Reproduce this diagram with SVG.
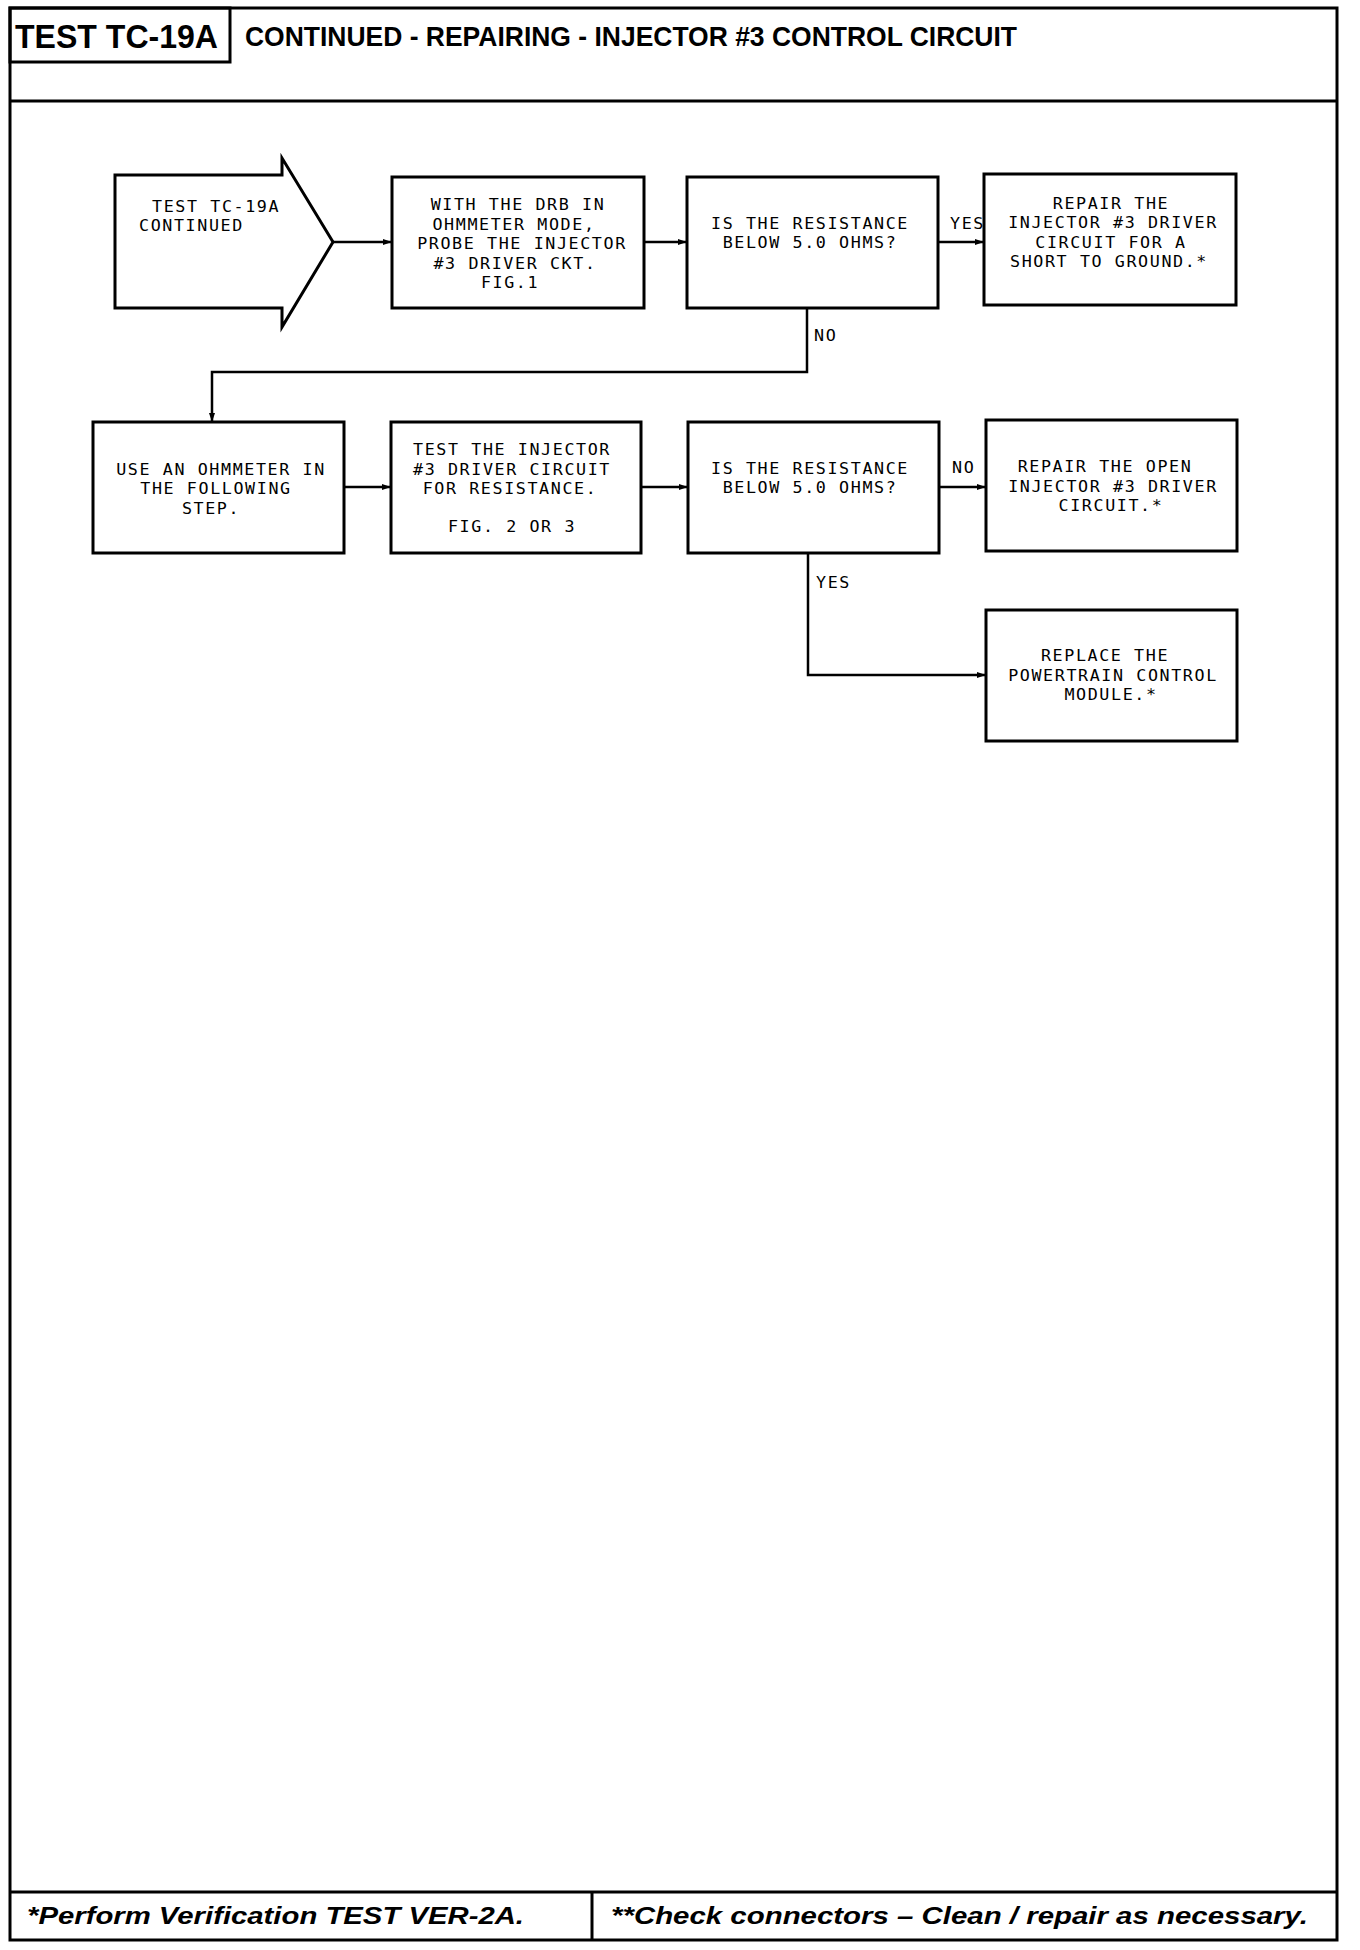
<svg xmlns="http://www.w3.org/2000/svg" width="1360" height="1950" viewBox="0 0 1360 1950">
<style>
.frame{fill:none;stroke:#000;stroke-width:3}
.box{fill:#fff;stroke:#000;stroke-width:3}
.conn{fill:none;stroke:#000;stroke-width:2.5}
.t{font-family:"DejaVu Sans Mono","Liberation Mono",monospace;font-size:16.7px;letter-spacing:1.6px;fill:#000;text-anchor:middle}
.ts{font-family:"DejaVu Sans Mono","Liberation Mono",monospace;font-size:16.7px;letter-spacing:1.6px;fill:#000}
.hd{font-family:"Liberation Sans",Arial,sans-serif;font-weight:bold;fill:#000}
.ft{font-family:"Liberation Sans",Arial,sans-serif;font-weight:bold;font-style:italic;font-size:24px;fill:#000}
</style>
<defs>
<marker id="ah" markerWidth="10" markerHeight="8" refX="9" refY="4" orient="auto" markerUnits="userSpaceOnUse">
<path d="M0,1 L9,4 L0,7 Z" fill="#000"/>
</marker>
</defs>
<rect width="1360" height="1950" fill="#fff"/>
<g id="frame">
<rect class="frame" x="10" y="8" width="1327" height="1932"/>
<line class="frame" x1="10" y1="101" x2="1337" y2="101"/>
<rect class="frame" x="10" y="8" width="220" height="54"/>
<text class="hd" x="15" y="48" font-size="33" textLength="203" lengthAdjust="spacingAndGlyphs">TEST TC-19A</text>
<text class="hd" x="245" y="46" font-size="28" textLength="772" lengthAdjust="spacingAndGlyphs">CONTINUED - REPAIRING - INJECTOR #3 CONTROL CIRCUIT</text>
<line class="frame" x1="10" y1="1892" x2="1337" y2="1892"/>
<line class="frame" x1="592" y1="1892" x2="592" y2="1940"/>
<text class="ft" x="27" y="1924" textLength="497" lengthAdjust="spacingAndGlyphs">*Perform Verification TEST VER-2A.</text>
<text class="ft" x="611" y="1924" textLength="697" lengthAdjust="spacingAndGlyphs">**Check connectors – Clean / repair as necessary.</text>
</g>
<g id="connectors">
<line class="conn" x1="333" y1="242" x2="392" y2="242" marker-end="url(#ah)"/>
<line class="conn" x1="644" y1="242" x2="687" y2="242" marker-end="url(#ah)"/>
<line class="conn" x1="938" y1="242" x2="984" y2="242" marker-end="url(#ah)"/>
<polyline class="conn" points="807,308 807,372 212,372 212,422" marker-end="url(#ah)"/>
<line class="conn" x1="344" y1="487" x2="391" y2="487" marker-end="url(#ah)"/>
<line class="conn" x1="641" y1="487" x2="688" y2="487" marker-end="url(#ah)"/>
<line class="conn" x1="939" y1="487" x2="986" y2="487" marker-end="url(#ah)"/>
<polyline class="conn" points="808,554 808,675 986,675" marker-end="url(#ah)"/>
<text class="ts" x="950" y="229">YES</text>
<text class="ts" x="814" y="341">NO</text>
<text class="ts" x="952" y="473">NO</text>
<text class="ts" x="816" y="588">YES</text>
</g>
<g id="n1">
<polygon class="box" points="115,175 282,175 282,158 333,242 282,327 282,308 115,308"/>
<text class="ts"><tspan x="152" y="211.5">TEST TC-19A</tspan><tspan x="139" y="231">CONTINUED</tspan></text>
</g>
<g id="n2">
<rect class="box" x="392" y="177" width="252" height="131"/>
<text class="t"><tspan x="518" y="210">WITH THE DRB IN</tspan><tspan x="514" y="229.5">OHMMETER MODE,</tspan><tspan x="522" y="249">PROBE THE INJECTOR</tspan><tspan x="515" y="268.5">#3 DRIVER CKT.</tspan><tspan x="510" y="288">FIG.1</tspan></text>
</g>
<g id="n3">
<rect class="box" x="687" y="177" width="251" height="131"/>
<text class="t"><tspan x="810" y="228.5">IS THE RESISTANCE</tspan><tspan x="810" y="248">BELOW 5.0 OHMS?</tspan></text>
</g>
<g id="n4">
<rect class="box" x="984" y="174" width="252" height="131"/>
<text class="t"><tspan x="1111" y="208.5">REPAIR THE</tspan><tspan x="1113" y="228">INJECTOR #3 DRIVER</tspan><tspan x="1111" y="247.5">CIRCUIT FOR A</tspan><tspan x="1109" y="267">SHORT TO GROUND.*</tspan></text>
</g>
<g id="n5">
<rect class="box" x="93" y="422" width="251" height="131"/>
<text class="t"><tspan x="221" y="474.5">USE AN OHMMETER IN</tspan><tspan x="216" y="494">THE FOLLOWING</tspan><tspan x="211" y="513.5">STEP.</tspan></text>
</g>
<g id="n6">
<rect class="box" x="391" y="422" width="250" height="131"/>
<text class="t"><tspan x="512" y="455">TEST THE INJECTOR</tspan><tspan x="512" y="474.5">#3 DRIVER CIRCUIT</tspan><tspan x="510" y="494">FOR RESISTANCE.</tspan><tspan x="512" y="532">FIG. 2 OR 3</tspan></text>
</g>
<g id="n7">
<rect class="box" x="688" y="422" width="251" height="131"/>
<text class="t"><tspan x="810" y="473.5">IS THE RESISTANCE</tspan><tspan x="810" y="493">BELOW 5.0 OHMS?</tspan></text>
</g>
<g id="n8">
<rect class="box" x="986" y="420" width="251" height="131"/>
<text class="t"><tspan x="1105" y="472">REPAIR THE OPEN</tspan><tspan x="1113" y="491.5">INJECTOR #3 DRIVER</tspan><tspan x="1111" y="511">CIRCUIT.*</tspan></text>
</g>
<g id="n9">
<rect class="box" x="986" y="610" width="251" height="131"/>
<text class="t"><tspan x="1105" y="661">REPLACE THE</tspan><tspan x="1113" y="680.5">POWERTRAIN CONTROL</tspan><tspan x="1111" y="700">MODULE.*</tspan></text>
</g>
</svg>
